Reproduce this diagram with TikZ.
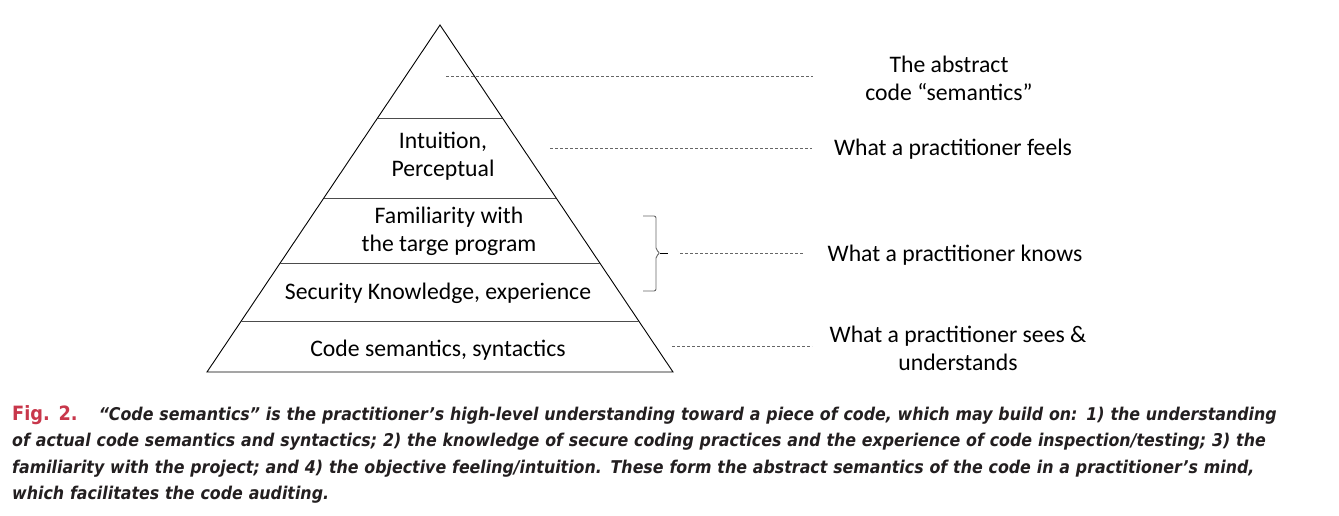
\documentclass[tikz,border=0pt]{standalone}
\usepackage{fontspec}
\setmainfont{Carlito}
\newfontfamily\capfont{DejaVu Sans Condensed}
\usetikzlibrary{positioning}
\definecolor{figred}{RGB}{200,55,75}
\definecolor{captext}{RGB}{35,31,32}

\begin{document}
\begin{tikzpicture}[
    x=1pt, y=-1pt,
    font=\fontsize{23.7}{28}\selectfont,
    layertext/.style={align=center, text=black, inner sep=0pt},
    sidetext/.style={align=center, text=black, inner sep=0pt},
    outline/.style={line width=0.9pt, black},
    divider/.style={line width=0.9pt, black!70},
    leader/.style={dash pattern=on 3pt off 2pt, line width=0.8pt, black!60},
    bracestyle/.style={line width=0.9pt, black!60, rounded corners=2pt},
    capstyle/.style={anchor=north west, align=left, text width=1330pt, inner sep=0pt, font=\capfont\bfseries\itshape\fontsize{17.6}{26.5}\selectfont, text=captext}
]
\useasboundingbox (0,0) rectangle (1339,516);

\coordinate (apex) at (440,25);
\coordinate (baseL) at (207,372);
\coordinate (baseR) at (673,372);
\draw[outline] (baseL) -- (apex) -- (baseR) -- cycle;

\draw[divider] (377.6,118) -- (502.4,118);
\draw[divider] (323.8,198) -- (556.2,198);
\draw[divider] (280.2,263) -- (599.8,263);
\draw[divider] (241.2,321) -- (638.8,321);

\node[layertext] (intuition) at (443,156) {Intuition,\\Perceptual};
\node[layertext] (familiar) at (449,231) {Familiarity with\\the targe program};
\node[layertext] (security) at (438,293) {Security Knowledge, experience};
\node[layertext] (codesem) at (438,350) {Code semantics, syntactics};

\node[sidetext] (abstract) at (949,78) {The abstract\\code “semantics”};
\node[sidetext] (feels) at (953,149) {What a practitioner feels};
\node[sidetext] (knows) at (955,255) {What a practitioner knows};
\node[sidetext] (sees) at (958,348) {What a practitioner sees \&\\understands};

\coordinate (top in) at (446,76);
\coordinate (top out) at (813,76);
\coordinate (feel in) at (550,148);
\coordinate (feel out) at (812,148);
\coordinate (brace) at (668,253);
\coordinate (know in) at (680,253);
\coordinate (know out) at (804,253);
\coordinate (see in) at (672,346);
\coordinate (see out) at (812,346);

\draw[leader] (top in) -- (top out);
\draw[leader] (feel in) -- (feel out);
\draw[leader] (know in) -- (know out);
\draw[leader] (see in) -- (see out);

\draw[bracestyle] (643,216) -- (656,216) -- (656,250) -- (660,253) -- (656,256) -- (656,291) -- (643,291);
\draw[line width=0.9pt, black] (660,253) -- (brace);

\node[capstyle] (caption) at (12,405) {{\color{figred}\upshape\fontsize{19.7}{26.5}\selectfont Fig. 2.}\hspace{1.2em}“Code semantics” is the practitioner’s high-level understanding toward a piece of code, which may build on: 1) the understanding\\
of actual code semantics and syntactics; 2) the knowledge of secure coding practices and the experience of code inspection/testing; 3) the\\
familiarity with the project; and 4) the objective feeling/intuition. These form the abstract semantics of the code in a practitioner’s mind,\\
which facilitates the code auditing.};
\end{tikzpicture}
\end{document}
